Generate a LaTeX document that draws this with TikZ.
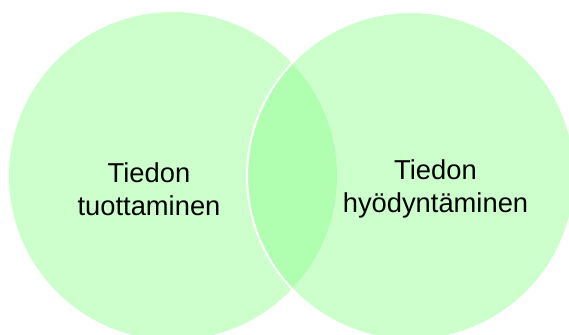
\documentclass[tikz,border=0pt]{standalone}
\usepackage{fontspec}
\setmainfont{Liberation Sans}
\definecolor{venngreen}{RGB}{142,255,142}
\begin{document}
\begin{tikzpicture}[x=0.75pt,y=-0.75pt,
  venn/.style={circle,minimum size=328*0.75pt,inner sep=0pt,fill=venngreen,fill opacity=0.45},
  label/.style={align=center,font=\fontsize{20.5}{24.5}\selectfont,text=black}]
\useasboundingbox (0,0) rectangle (569,335);
\clip (0,0) rectangle (569,335);
\node[venn] (left) at (173,176) {};
\node[venn,draw=white,line width=1.5pt] (right) at (411,176) {};
\node[label] (lt) at (149,189) {Tiedon\\tuottaminen};
\node[label] (rt) at (435.5,189) {Tiedon\\hyödyntäminen};
\end{tikzpicture}
\end{document}
